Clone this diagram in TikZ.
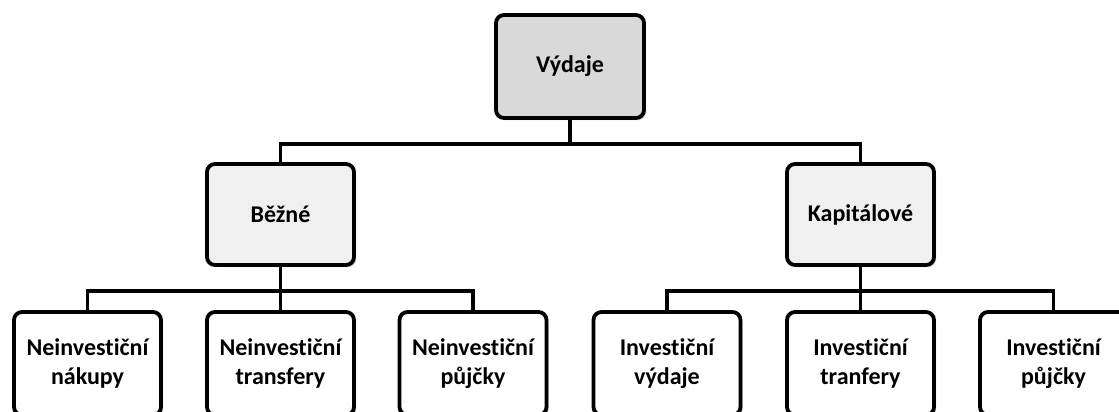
\documentclass[tikz,border=0pt]{standalone}
\usepackage{fontspec}
\setmainfont[Ligatures={NoCommon,NoDiscretionary}]{Carlito}
\usetikzlibrary{shadows}
\begin{document}
\begin{tikzpicture}[
x=1pt,y=-1pt,
line/.style={draw,line width=3.8pt},
box/.style={draw,line width=3.8pt,rounded corners=8pt,align=center,
  font=\fontsize{24}{29}\selectfont\bfseries,
  minimum width=147pt,minimum height=103pt,inner sep=0pt,
  drop shadow={shadow xshift=2pt,shadow yshift=-2pt,fill=black!45}},
top/.style={box,fill=black!15,minimum width=148pt},
mid/.style={box,fill=black!6,minimum height=101pt},
leaf/.style={box,fill=white},
]

\useasboundingbox (0,0) rectangle (1119,412);
\clip (0,0) rectangle (1119,412);

\node[top] (vyd) at (570,66.5) {Výdaje};

\node[mid] (bez) at (280.5,214.5) {Běžné};
	\node[leaf] (bez1) at (87.5,363.5) {Neinvestiční\\nákupy};
	\node[leaf] (bez2) at (280.5,363.5) {Neinvestiční\\transfery};
	\node[leaf] (bez3) at (473,363.5) {Neinvestiční\\půjčky};

\node[mid] (kap) at (860.5,214.5) {Kapitálové};
	\node[leaf] (kap1) at (667,363.5) {Investiční\\výdaje};
	\node[leaf] (kap2) at (860.5,363.5) {Investiční\\tranfery};
	\node[leaf] (kap3) at (1053.5,363.5) {Investiční\\půjčky};

%top level
\path[line] (vyd.south) -- ++(0,24) -| (bez.north);
\path[line] (vyd.south) -- ++(0,24) -| (kap.north);

%current
\path[line] (bez.south) -- ++(0,24) -| (bez1.north);
\path[line] (bez.south) -- (bez2.north);
\path[line] (bez.south) -- ++(0,24) -| (bez3.north);

%capital
\path[line] (kap.south) -- ++(0,24) -| (kap1.north);
\path[line] (kap.south) -- (kap2.north);
\path[line] (kap.south) -- ++(0,24) -| (kap3.north);

\end{tikzpicture}
\end{document}
